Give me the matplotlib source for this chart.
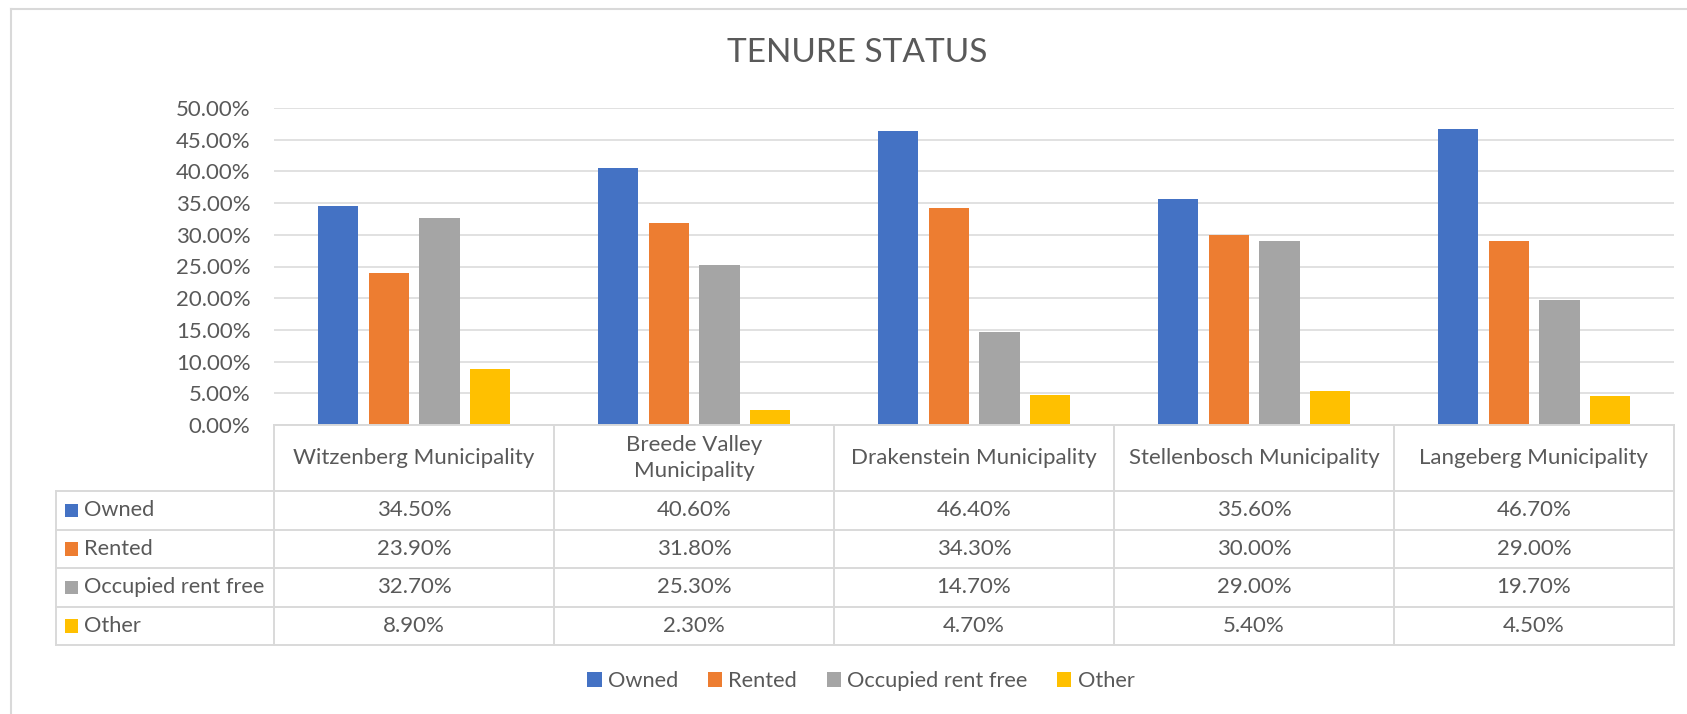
import numpy as np
import matplotlib.pyplot as plt
from matplotlib.patches import Patch, Rectangle
from matplotlib.ticker import PercentFormatter

plt.rcParams['font.family'] = ['Lato', 'DejaVu Sans']

# data (percent)
municipalities = ["Witzenberg Municipality", "Breede Valley\nMunicipality",
                  "Drakenstein Municipality", "Stellenbosch Municipality",
                  "Langeberg Municipality"]
series_names = ["Owned", "Rented", "Occupied rent free", "Other"]
owned = [34.5, 40.6, 46.4, 35.6, 46.7]
rented = [23.9, 31.8, 34.3, 30.0, 29.0]
rent_free = [32.7, 25.3, 14.7, 29.0, 19.7]
other = [8.9, 2.3, 4.7, 5.4, 4.5]
colors = ["#4472C4", "#ED7D31", "#A5A5A5", "#FFC000"]

values = [owned, rented, rent_free, other]
text_col = "#595959"
line_col = "#D9D9D9"

W, H = 1687, 714
fig = plt.figure(figsize=(W / 100, H / 100), dpi=100)


def fx(px):
    return px / W


def fy(py):
    return 1 - py / H


# main bar area
ax = fig.add_axes([fx(274), fy(425), fx(1674) - fx(274), fy(108) - fy(425)])
x = np.arange(len(municipalities))
step = 0.182
width = 0.143
for k, (vals, c) in enumerate(zip(values, colors)):
    ax.bar(x + (k - 1.5) * step, vals, width, color=c, zorder=3)

ax.set_xlim(-0.5, len(municipalities) - 0.5)
ax.set_ylim(0, 50)
ax.set_yticks(np.arange(0, 51, 5))
ax.yaxis.set_major_formatter(PercentFormatter(decimals=2))
ax.set_xticks([])
ax.tick_params(axis='y', length=0, pad=17, labelsize=16, labelcolor=text_col)
ax.yaxis.grid(True, color=line_col, lw=1.1)
ax.set_axisbelow(True)
for s in ax.spines.values():
    s.set_visible(False)

# overlay in pixel coords for the data table, title, border
ov = fig.add_axes([0, 0, 1, 1], facecolor='none')
ov.set_xlim(0, W)
ov.set_ylim(H, 0)
ov.axis('off')

# column edges come from the bar axis scale
edges = [ax.transData.transform((i - 0.5, 0))[0] for i in range(len(municipalities) + 1)]
centers = [ax.transData.transform((i, 0))[0] for i in range(len(municipalities))]

head_top, head_bot = 425, 491
row_edges = [491, 529.5, 568, 606.5, 645]
tab_left = 56
lw_t = 1.4

ov.plot([edges[0], edges[-1]], [head_top, head_top], color=line_col, lw=lw_t)
for yy in row_edges:
    ov.plot([tab_left, edges[-1]], [yy, yy], color=line_col, lw=lw_t)
for xx in edges:
    ov.plot([xx, xx], [head_top, row_edges[-1]], color=line_col, lw=lw_t)
ov.plot([tab_left, tab_left], [row_edges[0], row_edges[-1]], color=line_col, lw=lw_t)

for cx, name in zip(centers, municipalities):
    ov.text(cx, (head_top + head_bot) / 2, name, ha='center', va='center',
            fontsize=16, color=text_col, linespacing=1.35)

for r, (name, vals, c) in enumerate(zip(series_names, values, colors)):
    yc = (row_edges[r] + row_edges[r + 1]) / 2
    ov.add_patch(Rectangle((65, yc - 6.5), 13.5, 13.5, color=c, lw=0))
    ov.text(84, yc, name, ha='left', va='center', fontsize=15.7, color=text_col)
    for cx, v in zip(centers, vals):
        ov.text(cx, yc, f"{v:.2f}%", ha='center', va='center',
                fontsize=16, color=text_col)

# chart border (only top and left fall inside the picture)
ov.plot([10.7, 10.7], [9, H + 5], color=line_col, lw=1.5)
ov.plot([10.7, W + 5], [9, 9], color=line_col, lw=1.5)

fig.text(fx(857), fy(53), "TENURE STATUS", ha='center', va='center',
         fontsize=24, color=text_col)

handles = [Patch(facecolor=c, edgecolor='none') for c in colors]
fig.legend(handles, series_names, loc='center', bbox_to_anchor=(fx(861), fy(681)),
           ncol=4, frameon=False, fontsize=15.7, labelcolor=text_col,
           handlelength=0.65, handleheight=0.65, handletextpad=0.3,
           columnspacing=1.35)

fig.savefig("out.png", dpi=100, facecolor='white')
